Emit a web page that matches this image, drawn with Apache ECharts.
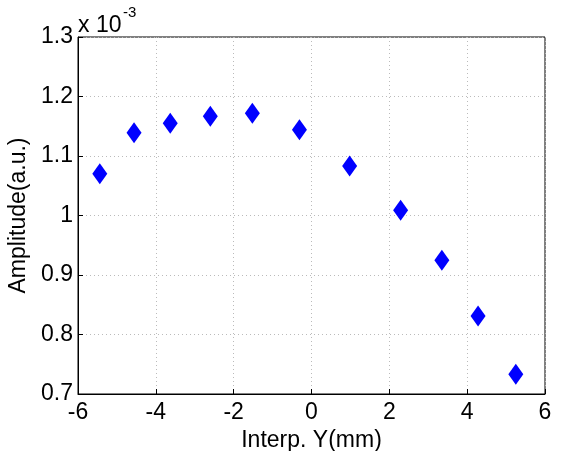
<!DOCTYPE html>
<html><head><meta charset="utf-8">
<script src="https://cdn.jsdelivr.net/npm/echarts@6/dist/echarts.min.js"></script>
<style>html,body{margin:0;padding:0;background:#fff}#c{width:566px;height:451px}</style>
</head><body><div id="c"></div>
<script>
const xValues = [-5.44, -4.56, -3.63, -2.60, -1.52, -0.31, 0.98, 2.29, 3.35, 4.28, 5.25];
const yValues = [1.070, 1.139, 1.155, 1.167, 1.172, 1.144, 1.083, 1.009, 0.925, 0.831, 0.733];
const xTicks = [-6, -4, -2, 0, 2, 4, 6];
const yTicks = [0.7, 0.8, 0.9, 1, 1.1, 1.2, 1.3];
const xName = 'Interp. Y(mm)';
const yName = 'Amplitude(a.u.)';

const font = 'Liberation Sans, Arial, Helvetica, sans-serif';
const chart = echarts.init(document.getElementById('c'), null, {renderer: 'canvas'});
const L = 78, R = 545, T = 37, B = 394;
chart.setOption({
  animation: false,
  backgroundColor: '#fff',
  grid: {left: L, right: 566 - R, top: T, bottom: 451 - B, outerBoundsMode: 'none', containLabel: false,
    show: true, borderColor: '#000', borderWidth: 1},
  xAxis: {
    type: 'value', min: -6, max: 6, interval: 2,
    name: xName, nameLocation: 'middle', nameGap: 24,
    nameTextStyle: {fontFamily: font, fontSize: 23, color: '#000'},
    axisLine: {show: true, onZero: false, lineStyle: {color: '#000', width: 1}},
    axisTick: {show: true, inside: true, length: 5, lineStyle: {color: '#000'}},
    axisLabel: {fontFamily: font, fontSize: 23, color: '#000', margin: 7,
      formatter: v => xTicks.includes(v) ? String(v) : ''},
    splitLine: {show: true, lineStyle: {color: '#bbb', type: [1, 3], width: 1}}
  },
  yAxis: {
    type: 'value', min: 0.7, max: 1.3, interval: 0.1,
    name: yName, nameLocation: 'middle', nameGap: 44,
    nameTextStyle: {fontFamily: font, fontSize: 23, color: '#000'},
    axisLine: {show: true, onZero: false, lineStyle: {color: '#000', width: 1}},
    axisTick: {show: true, inside: true, length: 5, lineStyle: {color: '#000'}},
    axisLabel: {fontFamily: font, fontSize: 23, color: '#000', margin: 5,
      formatter: v => { const r = Math.round(v * 10) / 10; return yTicks.includes(r) ? String(r) : ''; }},
    splitLine: {show: true, lineStyle: {color: '#bbb', type: [1, 3], width: 1}}
  },
  graphic: [
    {type: 'text', x: 78, y: 37, style: {text: 'x 10', fontFamily: font, fontSize: 23, fill: '#000', verticalAlign: 'bottom'}},
    {type: 'text', x: 123, y: 5, style: {text: '-3', fontFamily: font, fontSize: 15, fill: '#000', verticalAlign: 'top'}}
  ],
  series: [{
    type: 'scatter',
    data: xValues.map((x, i) => [x, yValues[i]]),
    symbol: 'diamond', symbolSize: [15, 21],
    itemStyle: {color: '#0000ff', opacity: 1}
  }]
});
</script></body></html>
